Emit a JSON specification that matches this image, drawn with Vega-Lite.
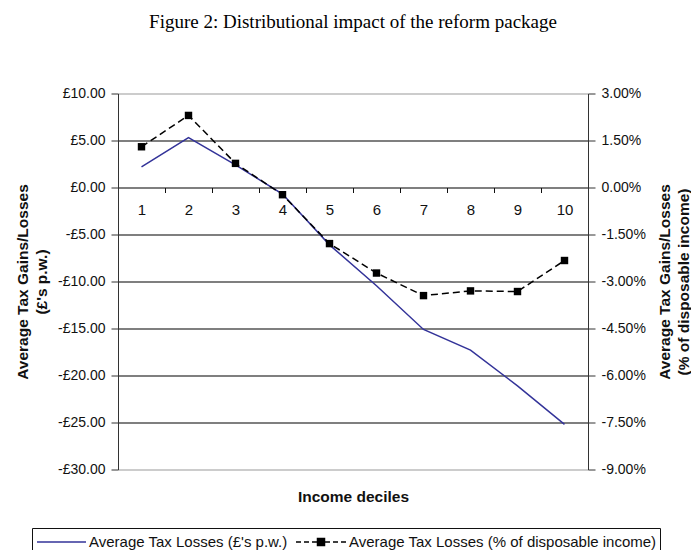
{
  "$schema": "https://vega.github.io/schema/vega-lite/v6.json",
  "autosize": "none",
  "width": 470,
  "height": 376,
  "padding": {"left": 118, "top": 93.5, "right": 103, "bottom": 80.5},
  "background": "white",
  "title": {
    "text": "Figure 2: Distributional impact of the reform package",
    "font": "Liberation Serif",
    "fontSize": 19,
    "fontWeight": "normal",
    "color": "black",
    "anchor": "middle",
    "frame": "group",
    "baseline": "alphabetic",
    "offset": 40
  },
  "config": {
    "view": {"stroke": null},
    "font": "Liberation Sans",
    "axis": {
      "labelFont": "Liberation Sans",
      "labelFontSize": 14,
      "labelColor": "#111",
      "titleFont": "Liberation Sans",
      "titleFontSize": 15.5,
      "titleFontWeight": "bold",
      "titleColor": "#111",
      "titleLineHeight": 19
    }
  },
  "data": {
    "values": [
      {"decile": 1, "gbp": 2.2, "pct": 1.3},
      {"decile": 2, "gbp": 5.3, "pct": 2.3},
      {"decile": 3, "gbp": 2.4, "pct": 0.77},
      {"decile": 4, "gbp": -0.7, "pct": -0.23},
      {"decile": 5, "gbp": -6.1, "pct": -1.79},
      {"decile": 6, "gbp": -10.45, "pct": -2.73},
      {"decile": 7, "gbp": -15.1, "pct": -3.45},
      {"decile": 8, "gbp": -17.3, "pct": -3.3},
      {"decile": 9, "gbp": -21.1, "pct": -3.32},
      {"decile": 10, "gbp": -25.2, "pct": -2.33}
    ]
  },
  "encoding": {
    "x": {
      "field": "decile",
      "type": "ordinal",
      "bandPosition": 0.5,
      "scale": {"type": "band", "paddingInner": 0, "paddingOuter": 0},
      "axis": {
        "title": "Income deciles",
        "labelAngle": 0,
        "labelFontSize": 15,
        "tickBand": "extent",
        "domain": false,
        "grid": false,
        "offset": -282,
        "tickSize": 5,
        "tickColor": "#111",
        "labelPadding": 10,
        "titleY": 309,
        "titleBaseline": "middle"
      }
    }
  },
  "layer": [
    {
      "mark": {"type": "line", "strokeWidth": 1.5},
      "encoding": {
        "y": {
          "field": "gbp",
          "type": "quantitative",
          "scale": {"domain": [-30, 10], "nice": false, "zero": false},
          "axis": {
            "orient": "left",
            "title": ["Average Tax Gains/Losses", "(£'s p.w.)"],
            "values": [-30, -25, -20, -15, -10, -5, 0, 5, 10],
            "labelExpr": "(datum.value < 0 ? '-' : '') + '£' + format(abs(datum.value), '.2f')",
            "grid": true,
            "gridColor": {"condition": {"test": "datum.value === 10 || datum.value === -30", "value": "#999"}, "value": "#000"},
            "gridWidth": 1.2,
            "domainColor": "#333",
            "tickColor": "#333",
            "tickSize": 7,
            "labelPadding": 6,
            "titlePadding": 8
          }
        },
        "color": {
          "datum": "Average Tax Losses (£'s p.w.)",
          "type": "nominal",
          "scale": {
            "domain": ["Average Tax Losses (£'s p.w.)", "Average Tax Losses (% of disposable income)"],
            "range": ["#333399", "#000000"]
          },
          "legend": {
            "orient": "none",
            "legendX": -86,
            "legendY": 434.5,
            "direction": "horizontal",
            "title": null,
            "strokeColor": "#111",
            "padding": 3,
            "labelFont": "Liberation Sans",
            "labelFontSize": 15,
            "labelColor": "#111",
            "labelOffset": 32,
            "labelLimit": 500,
            "columnPadding": 5,
            "symbolSize": 400,
            "symbolType": "stroke",
            "encode": {
              "symbols": {
                "update": {
                  "shape": {"signal": "indexof(datum.value, '%') >= 0 ? 'M-1,0H-0.5M-0.2,0H0.3M0.6,0H2.4M1.15,-0.35H1.85V0.35H1.15ZM2.7,0H3.2M3.5,0H4' : 'M-0.9,0H4'"},
                  "fill": {"signal": "indexof(datum.value, '%') >= 0 ? '#000' : 'transparent'"},
                  "stroke": {"signal": "indexof(datum.value, '%') >= 0 ? '#000' : '#333399'"},
                  "strokeWidth": {"value": 1.5},
                  "strokeDash": {"value": []}
                }
              }
            }
          }
        }
      }
    },
    {
      "mark": {"type": "line", "strokeWidth": 1.5, "strokeDash": [7, 4]},
      "encoding": {
        "y": {
          "field": "pct",
          "type": "quantitative",
          "scale": {"domain": [-9, 3], "nice": false, "zero": false},
          "axis": {
            "orient": "right",
            "title": ["Average Tax Gains/Losses", "(% of disposable income)"],
            "titleAngle": -90,
            "values": [-9, -7.5, -6, -4.5, -3, -1.5, 0, 1.5, 3],
            "labelExpr": "(datum.value < 0 ? '-' : '') + format(abs(datum.value), '.2f') + '%'",
            "grid": false,
            "domainColor": "#333",
            "tickColor": "#333",
            "tickSize": 7,
            "labelPadding": 6,
            "titlePadding": 8
          }
        },
        "color": {"datum": "Average Tax Losses (% of disposable income)", "type": "nominal"}
      }
    },
    {
      "mark": {"type": "point", "shape": "square", "filled": true, "size": 55, "color": "#000", "opacity": 1},
      "encoding": {
        "y": {"field": "pct", "type": "quantitative", "scale": {"domain": [-9, 3], "nice": false, "zero": false}, "axis": null}
      }
    }
  ],
  "resolve": {"scale": {"y": "independent"}, "axis": {"y": "independent"}}
}
